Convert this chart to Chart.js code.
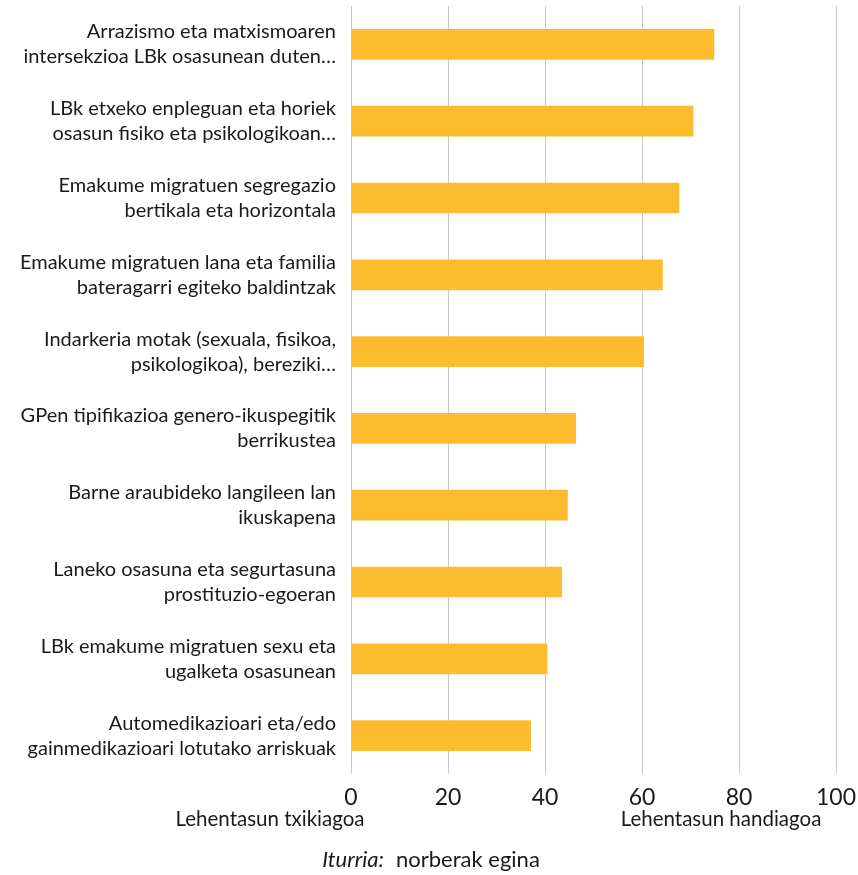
<!DOCTYPE html>
<html>
<head>
<meta charset="utf-8">
<script src="https://cdn.jsdelivr.net/npm/chart.js@4"></script>
<style>
    html, body { margin: 0; padding: 0; background: #fff; }
    #wrap { width: 858px; height: 875px; position: relative; }
</style>
</head>
<body>
<div id="wrap"><canvas id="myChart" width="858" height="875"></canvas></div>
<script>
// categories (top to bottom) and their scores
const categories = [
    ['Arrazismo eta matxismoaren', 'intersekzioa LBk osasunean duten…'],
    ['LBk etxeko enpleguan eta horiek', 'osasun fisiko eta psikologikoan…'],
    ['Emakume migratuen segregazio', 'bertikala eta horizontala'],
    ['Emakume migratuen lana eta familia', 'bateragarri egiteko baldintzak'],
    ['Indarkeria motak (sexuala, fisikoa,', 'psikologikoa), bereziki…'],
    ['GPen tipifikazioa genero-ikuspegitik', 'berrikustea'],
    ['Barne araubideko langileen lan', 'ikuskapena'],
    ['Laneko osasuna eta segurtasuna', 'prostituzio-egoeran'],
    ['LBk emakume migratuen sexu eta', 'ugalketa osasunean'],
    ['Automedikazioari eta/edo', 'gainmedikazioari lotutako arriskuak']
];
const scores = [74.9, 70.6, 67.7, 64.3, 60.4, 46.4, 44.7, 43.5, 40.5, 37.1];
const xTicks = [0, 20, 40, 60, 80, 100];
const lowLabel = 'Lehentasun txikiagoa';
const highLabel = 'Lehentasun handiagoa';
const sourceLabel = 'Iturria:';
const sourceText = 'norberak egina';

const FONT = 'Lato, "Open Sans", sans-serif';

// texts under the axis
const footerPlugin = {
    id: 'footer',
    afterDraw(chart) {
        const ctx = chart.ctx;
        ctx.save();
        ctx.fillStyle = '#1a1a1a';
        ctx.textBaseline = 'middle';
        ctx.font = '20.5px ' + FONT;
        ctx.textAlign = 'center';
        ctx.fillText(lowLabel, 270, 819);
        ctx.fillText(highLabel, 721, 819);

        ctx.font = 'italic 22px ' + FONT;
        const w1 = ctx.measureText(sourceLabel).width;
        ctx.font = '22px ' + FONT;
        const gap = 12;
        const w2 = ctx.measureText(sourceText).width;
        const start = 431 - (w1 + gap + w2) / 2;
        ctx.textAlign = 'left';
        ctx.font = 'italic 22px ' + FONT;
        ctx.fillText(sourceLabel, start, 860);
        ctx.font = '22px ' + FONT;
        ctx.fillText(sourceText, start + w1 + gap, 860);
        ctx.restore();
    }
};

const ctx = document.getElementById('myChart').getContext('2d');
const myChart = new Chart(ctx, {
    type: 'bar',
    data: {
        labels: categories,
        datasets: [
            {
                data: scores,
                backgroundColor: '#FDBC2D',
                borderWidth: 0,
                categoryPercentage: 0.4,
                barPercentage: 1
            }
        ]
    },
    options: {
        indexAxis: 'y',
        responsive: false,
        animation: false,
        layout: { padding: { top: 6, right: 22, left: 0, bottom: 0 } },
        plugins: {
            legend: { display: false },
            tooltip: { enabled: false }
        },
        scales: {
            x: {
                min: 0,
                max: 100,
                afterBuildTicks(scale) {
                    scale.ticks = xTicks.map(v => ({ value: v }));
                },
                afterFit(scale) {
                    scale.height = 101;
                    scale.paddingLeft = 0;
                    scale.paddingRight = 0;
                },
                grid: { color: '#c8c8c8', lineWidth: 1, drawTicks: false },
                border: { display: false },
                ticks: {
                    padding: 10,
                    color: '#1a1a1a',
                    font: { family: FONT, size: 23 }
                }
            },
            y: {
                afterFit(scale) {
                    scale.width = 351;
                    scale.paddingTop = 0;
                    scale.paddingBottom = 0;
                },
                grid: { display: false, drawTicks: false },
                border: { display: false },
                ticks: {
                    padding: 15,
                    color: '#1a1a1a',
                    font: { family: FONT, size: 20, lineHeight: 1.25 }
                }
            }
        }
    },
    plugins: [footerPlugin]
});
</script>
</body>
</html>
